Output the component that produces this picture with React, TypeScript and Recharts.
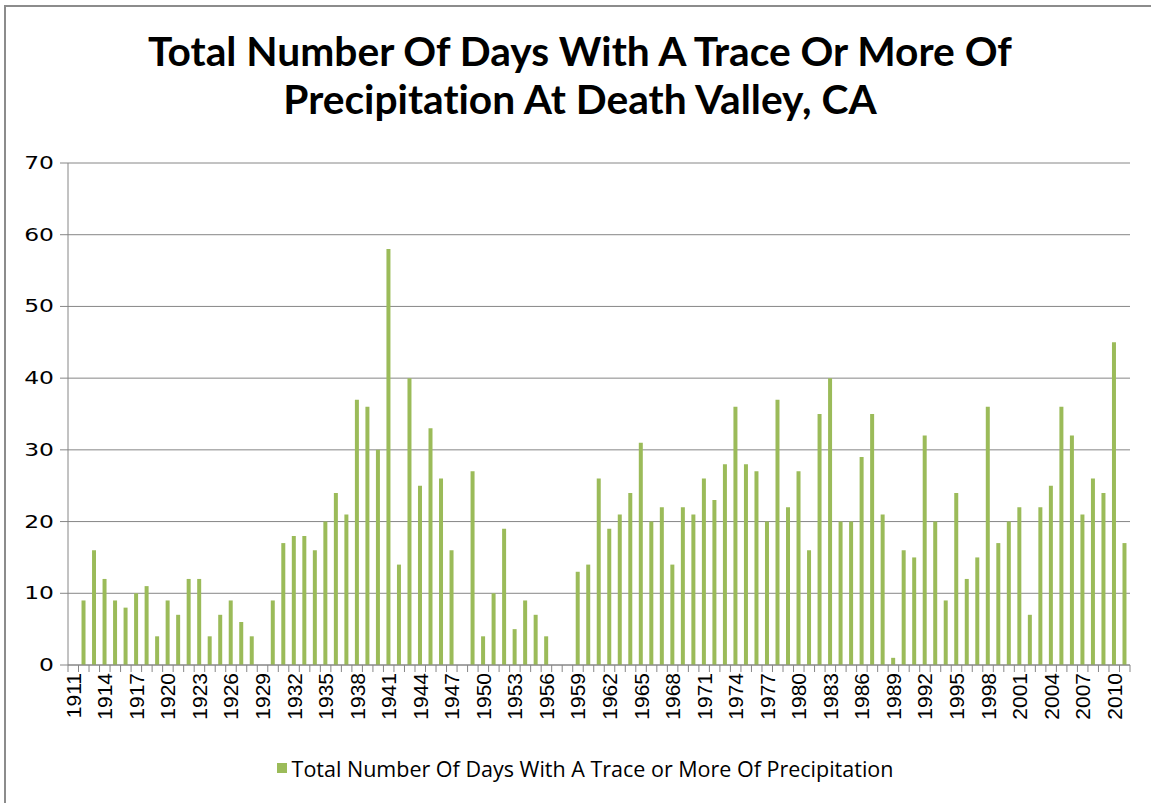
import React from "react";
import { BarChart, Bar, XAxis, YAxis, CartesianGrid, Legend } from "recharts";

const years: number[] = [];
for (let y = 1911; y <= 2011; y++) years.push(y);

const days: number[] = [
  0, 9, 16, 12, 9, 8, 10, 11, 4, 9,
  7, 12, 12, 4, 7, 9, 6, 4, 0, 9,
  17, 18, 18, 16, 20, 24, 21, 37, 36, 30,
  58, 14, 40, 25, 33, 26, 16, 0, 27, 4,
  10, 19, 5, 9, 7, 4, 0, 0, 13, 14,
  26, 19, 21, 24, 31, 20, 22, 14, 22, 21,
  26, 23, 28, 36, 28, 27, 20, 37, 22, 27,
  16, 35, 40, 20, 20, 29, 35, 21, 1, 16,
  15, 32, 20, 9, 24, 12, 15, 36, 17, 20,
  22, 7, 22, 25, 36, 32, 21, 26, 24, 45,
  17,
];

const yTicks = [0, 10, 20, 30, 40, 50, 60, 70];
const seriesName = "Total Number Of Days With A Trace or More Of Precipitation";
const titleLines = ["Total Number Of Days With A Trace Or More Of", "Precipitation At Death Valley, CA"];

const data = years.map((y, i) => ({ year: String(y), value: days[i] }));

const PLOT_LEFT = 68;
const PLOT_RIGHT = 1130;
const STEP = (PLOT_RIGHT - PLOT_LEFT) / years.length;
const GRAY = "#868686";
const GREEN = "#9BBB59";

function XTick(props: any) {
  const { x, y, payload } = props;
  const idx = years.indexOf(Number(payload.value));
  const showLabel = idx % 3 === 0 && idx < years.length - 1;
  return (
    <g>
      <line x1={x - STEP / 2} x2={x - STEP / 2} y1={y} y2={y + 7} stroke={GRAY} strokeWidth={1} />
      {idx === years.length - 1 && (
        <line x1={x + STEP / 2} x2={x + STEP / 2} y1={y} y2={y + 7} stroke={GRAY} strokeWidth={1} />
      )}
      {showLabel && (
        <text
          x={x}
          y={y + 8}
          transform={`rotate(-90, ${x}, ${y + 8})`}
          textAnchor="end"
          dominantBaseline="central"
          fontFamily="'Liberation Sans', Arial, sans-serif"
          fontSize={21}
          fill="#000"
        >
          {payload.value}
        </text>
      )}
    </g>
  );
}

function YTick(props: any) {
  const { x, y, payload } = props;
  return (
    <g transform={`translate(${x}, ${y})`}>
      <text
        transform="scale(1.3, 1)"
        x={0}
        y={0}
        textAnchor="end"
        dominantBaseline="central"
        fontFamily="'DejaVu Sans', sans-serif"
        fontSize={18}
        fill="#000"
      >
        {payload.value}
      </text>
    </g>
  );
}

function LegendContent() {
  return (
    <div style={{ display: "flex", justifyContent: "center", alignItems: "center", height: 26, paddingLeft: 32 }}>
      <span style={{ display: "inline-block", width: 10, height: 10, background: GREEN, marginRight: 5 }} />
      <span style={{ fontFamily: "'Open Sans', sans-serif", fontSize: 21.5, color: "#000" }}>{seriesName}</span>
    </div>
  );
}

export default function App() {
  return (
    <div style={{ position: "absolute", left: 0, top: 0, width: 1151, height: 803, overflow: "hidden", background: "#fff" }}>
      <div
        style={{
          position: "absolute",
          left: 4,
          top: 5,
          width: 1300,
          height: 1000,
          border: "2px solid #8c8c8c",
          boxSizing: "border-box",
        }}
      />
      <div
        style={{
          position: "absolute",
          left: 0,
          top: 27,
          width: 1160,
          textAlign: "center",
          fontFamily: "Lato, sans-serif",
          fontWeight: 700,
          fontSize: 40.7,
          lineHeight: "48px",
          color: "#000",
          fontVariantLigatures: "none",
        }}
      >
        {titleLines.map((l) => (
          <div key={l}>{l}</div>
        ))}
      </div>
      <div style={{ position: "absolute", left: 0, top: 0 }}>
        <BarChart
          width={1151}
          height={803}
          data={data}
          margin={{ top: 163, right: 1151 - PLOT_RIGHT, left: PLOT_LEFT - 60, bottom: 22 }}
          barSize={4}
        >
          <CartesianGrid vertical={false} stroke={GRAY} strokeWidth={1} />
          <XAxis
            dataKey="year"
            interval={0}
            tickLine={false}
            tickSize={0}
            tickMargin={0}
            height={90}
            axisLine={{ stroke: GRAY }}
            tick={<XTick />}
          />
          <YAxis
            width={60}
            domain={[0, 70]}
            ticks={yTicks}
            interval={0}
            tickSize={8}
            tickMargin={6}
            axisLine={{ stroke: GRAY }}
            tickLine={{ stroke: GRAY }}
            tick={<YTick />}
          />
          <Legend
            verticalAlign="bottom"
            align="center"
            wrapperStyle={{ height: 26 }}
            content={<LegendContent />}
          />
          <Bar dataKey="value" name={seriesName} fill={GREEN} isAnimationActive={false} />
        </BarChart>
      </div>
    </div>
  );
}
